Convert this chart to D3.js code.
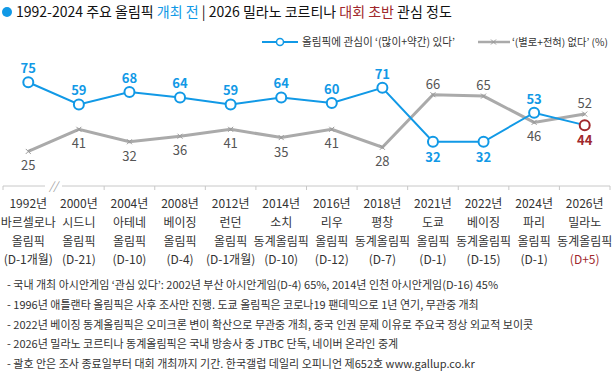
<!DOCTYPE html>
<html>
<head>
<meta charset="utf-8">
<title>올림픽 관심 정도</title>
<script src="https://d3js.org/d3.v7.min.js"></script>
<style>
  body { margin: 0; background: #fff; }
  text { font-family: "Noto Sans CJK KR", "Noto Sans", sans-serif; }
</style>
</head>
<body>
<script>
// data
const years = ["1992년", "2000년", "2004년", "2008년", "2012년", "2014년", "2016년", "2018년", "2021년", "2022년", "2024년", "2026년"];
const cities = ["바르셀로나", "시드니", "아테네", "베이징", "런던", "소치", "리우", "평창", "도쿄", "베이징", "파리", "밀라노"];
const games = ["올림픽", "올림픽", "올림픽", "올림픽", "올림픽", "동계올림픽", "올림픽", "동계올림픽", "올림픽", "동계올림픽", "올림픽", "동계올림픽"];
const dday = ["(D-1개월)", "(D-21)", "(D-10)", "(D-4)", "(D-1개월)", "(D-10)", "(D-12)", "(D-7)", "(D-1)", "(D-15)", "(D-1)", "(D+5)"];
const interested = [75, 59, 68, 64, 59, 64, 60, 71, 32, 32, 53, 44];
const notInterested = [25, 41, 32, 36, 41, 35, 41, 28, 66, 65, 46, 52];
const notes = [
  "- 국내 개최 아시안게임 ‘관심 있다’: 2002년 부산 아시안게임(D-4) 65%, 2014년 인천 아시안게임(D-16) 45%",
  "- 1996년 애틀랜타 올림픽은 사후 조사만 진행. 도쿄 올림픽은 코로나19 팬데믹으로 1년 연기, 무관중 개최",
  "- 2022년 베이징 동계올림픽은 오미크론 변이 확산으로 무관중 개최, 중국 인권 문제 이유로 주요국 정상 외교적 보이콧",
  "- 2026년 밀라노 코르티나 동계올림픽은 국내 방송사 중 JTBC 단독, 네이버 온라인 중계",
  "- 괄호 안은 조사 종료일부터 대회 개최까지 기간. 한국갤럽 데일리 오피니언 제652호 www.gallup.co.kr"
];

const BLUE = "#1199e6", GRAY = "#aaaaaa", RED = "#a0282c", TXT = "#333";
const width = 613, height = 374;

const svg = d3.select("body").append("svg")
  .attr("width", width).attr("height", height);

// title
svg.append("circle").attr("cx", 7).attr("cy", 12).attr("r", 5).attr("fill", BLUE);
const title = svg.append("text").attr("x", 16).attr("y", 17)
  .attr("font-size", 14).attr("fill", "#111");
title.append("tspan").text("1992-2024 주요 올림픽 ");
title.append("tspan").attr("fill", BLUE).text("개최 전");
title.append("tspan").text(" | 2026 밀라노 코르티나 ");
title.append("tspan").attr("fill", RED).text("대회 초반");
title.append("tspan").text(" 관심 정도");

// legend
const lg = svg.append("g").attr("fill", TXT);
lg.append("line").attr("x1", 262).attr("x2", 298).attr("y1", 42).attr("y2", 42)
  .attr("stroke", BLUE).attr("stroke-width", 2);
lg.append("circle").attr("cx", 280).attr("cy", 42).attr("r", 3.5)
  .attr("fill", "#fff").attr("stroke", BLUE).attr("stroke-width", 1.5);
lg.append("text").attr("x", 302).attr("y", 46).attr("fill", TXT).attr("font-size", 11)
  .attr("textLength", 153).attr("lengthAdjust", "spacingAndGlyphs")
  .text("올림픽에 관심이 ‘(많이+약간) 있다’");
lg.append("line").attr("x1", 478).attr("x2", 510).attr("y1", 42).attr("y2", 42)
  .attr("stroke", GRAY).attr("stroke-width", 2.5);
lg.append("path").attr("d", "M491,39.5l5,5M496,39.5l-5,5").attr("stroke", "#999").attr("stroke-width", 1);
lg.append("text").attr("x", 512).attr("y", 46).attr("fill", TXT).attr("font-size", 10)
  .attr("textLength", 96).attr("lengthAdjust", "spacingAndGlyphs")
  .text("‘(별로+전혀) 없다’ (%)");

// scales
const x = d3.scaleBand().domain(d3.range(years.length)).range([3, 610]);
const cx = i => x(i) + x.bandwidth() / 2;
const y = d3.scaleLinear().domain([0, 100]).range([186, 47.7]);

// axis
const axisY = 186;
const ax = svg.append("g").attr("stroke", "#c8c8c8").attr("stroke-width", 1);
ax.append("line").attr("x1", 3).attr("x2", 45).attr("y1", axisY).attr("y2", axisY);
ax.append("line").attr("x1", 62).attr("x2", 610).attr("y1", axisY).attr("y2", axisY);
d3.range(years.length + 1).filter(i => i !== 1).forEach(i => {
  const xx = i === years.length ? 610 : x(i);
  ax.append("line").attr("x1", xx).attr("x2", xx).attr("y1", axisY).attr("y2", axisY + 4);
});
svg.append("text").attr("x", 53.5).attr("y", axisY + 4).attr("text-anchor", "middle")
  .attr("font-size", 11).attr("font-style", "italic").attr("fill", "#999").text("//");

// category labels
const catLines = [years, cities, games, dday];
const lineY = [208, 227, 245.5, 264];
years.forEach((_, i) => {
  catLines.forEach((arr, k) => {
    svg.append("text").attr("x", cx(i)).attr("y", lineY[k]).attr("text-anchor", "middle")
      .attr("font-size", 12)
      .attr("fill", (k === 3 && i === years.length - 1) ? RED : TXT)
      .text(arr[i]);
  });
});

// lines
const line = d3.line().x((d, i) => cx(i)).y(d => y(d));
svg.append("path").datum(notInterested).attr("d", line)
  .attr("fill", "none").attr("stroke", GRAY).attr("stroke-width", 3);
svg.append("path").datum(interested).attr("d", line)
  .attr("fill", "none").attr("stroke", BLUE).attr("stroke-width", 2);

// gray markers
svg.append("g").selectAll("path").data(notInterested).join("path")
  .attr("d", (d, i) => `M${cx(i) - 2.5},${y(d) - 2.5}l5,5M${cx(i) + 2.5},${y(d) - 2.5}l-5,5`)
  .attr("stroke", "#999").attr("stroke-width", 1);

// blue markers
const last = interested.length - 1;
svg.append("g").selectAll("circle").data(interested).join("circle")
  .attr("cx", (d, i) => cx(i)).attr("cy", d => y(d)).attr("r", 5)
  .attr("fill", "#fff")
  .attr("stroke", (d, i) => i === last ? RED : BLUE).attr("stroke-width", 2);

// value labels
svg.append("g").selectAll("text").data(interested).join("text")
  .attr("x", (d, i) => cx(i))
  .attr("y", (d, i) => d > notInterested[i] ? y(d) - 9 : y(d) + 20)
  .attr("text-anchor", "middle").attr("font-size", 13).attr("font-weight", "bold")
  .attr("fill", (d, i) => i === last ? RED : BLUE)
  .text(d => d);
svg.append("g").selectAll("text").data(notInterested).join("text")
  .attr("x", (d, i) => cx(i))
  .attr("y", (d, i) => d > interested[i] ? y(d) - 6 : y(d) + 19)
  .attr("text-anchor", "middle").attr("font-size", 13)
  .attr("fill", "#555")
  .text(d => d);

// footnotes
svg.append("g").selectAll("text").data(notes).join("text")
  .attr("x", 7).attr("y", (d, i) => 289 + i * 19.8)
  .attr("font-size", 11).attr("fill", TXT)
  .text(d => d);
</script>
</body>
</html>
